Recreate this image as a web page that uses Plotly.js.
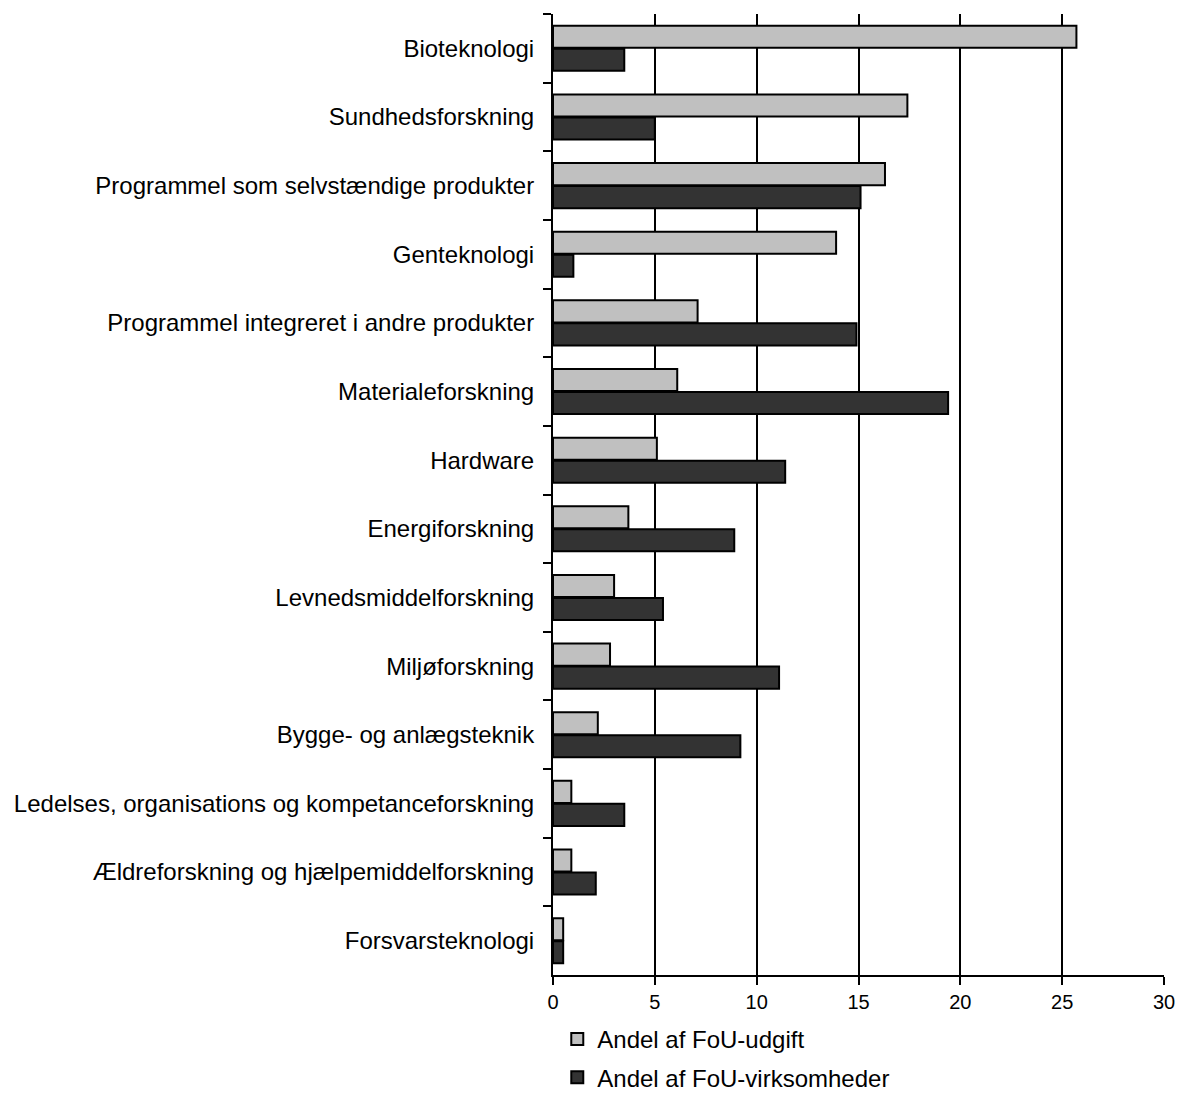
<!DOCTYPE html>
<html>
<head>
<meta charset="utf-8">
<script src="https://cdn.plot.ly/plotly-3.0.1.min.js"></script>
<style>body{margin:0;background:#fff}#chart{width:1178px;height:1094px}</style>
</head>
<body>
<div id="chart"></div>
<script>
const categories = [
  "Bioteknologi",
  "Sundhedsforskning",
  "Programmel som selvstændige produkter",
  "Genteknologi",
  "Programmel integreret i andre produkter",
  "Materialeforskning",
  "Hardware",
  "Energiforskning",
  "Levnedsmiddelforskning",
  "Miljøforskning",
  "Bygge- og anlægsteknik",
  "Ledelses, organisations og kompetanceforskning",
  "Ældreforskning og hjælpemiddelforskning",
  "Forsvarsteknologi"
];
const andelUdgift = [25.7, 17.4, 16.3, 13.9, 7.1, 6.1, 5.1, 3.7, 3.0, 2.8, 2.2, 0.9, 0.9, 0.5];
const andelVirksomheder = [3.5, 5.0, 15.1, 1.0, 14.9, 19.4, 11.4, 8.9, 5.4, 11.1, 9.2, 3.5, 2.1, 0.5];
const seriesNames = ["Andel af FoU-udgift", "Andel af FoU-virksomheder"];
const xTicks = [0, 5, 10, 15, 20, 25, 30];

const data = [
  {
    type: "bar", orientation: "h", name: seriesNames[0], legendgroup: "a",
    y: categories, x: andelUdgift,
    marker: {color: "#c0c0c0", line: {color: "#000", width: 2}}
  },
  {
    type: "bar", orientation: "h", name: seriesNames[1], legendgroup: "b",
    y: categories, x: andelVirksomheder,
    marker: {color: "#333333", line: {color: "#000", width: 2}}
  }
];

const layout = {
  width: 1178, height: 1094,
  margin: {l: 553, r: 14, t: 14, b: 119, autoexpand: false},
  paper_bgcolor: "#fff", plot_bgcolor: "#fff",
  font: {family: "Liberation Sans, Arial, sans-serif", color: "#000"},
  barmode: "group", bargap: 0.33, bargroupgap: 0.04,
  showlegend: true,
  legend: {
    x: 0.007, xanchor: "left", xref: "paper",
    y: 0.0705, yanchor: "top", yref: "container",
    orientation: "v", traceorder: "grouped", tracegroupgap: 4,
    font: {size: 24, color: "#000"}, bgcolor: "rgba(0,0,0,0)"
  },
  xaxis: {
    range: [0, 30], tickvals: xTicks, ticktext: xTicks.map(String),
    showgrid: true, gridcolor: "#000", gridwidth: 2,
    zeroline: false, showline: true, linecolor: "#000", linewidth: 2,
    ticks: "outside", ticklen: 8, tickwidth: 2, tickcolor: "#000",
    tickfont: {size: 20, color: "#000"}, fixedrange: true
  },
  yaxis: {
    categoryorder: "array", categoryarray: categories,
    autorange: "reversed",
    showline: true, linecolor: "#000", linewidth: 2,
    ticks: "outside", tickson: "boundaries", ticklen: 8, tickwidth: 2, tickcolor: "#000",
    tickfont: {size: 24, color: "#000"}, showgrid: false, zeroline: false,
    ticklabelstandoff: 12, fixedrange: true
  }
};

Plotly.newPlot("chart", data, layout, {displayModeBar: false, staticPlot: true});
</script>
</body>
</html>
